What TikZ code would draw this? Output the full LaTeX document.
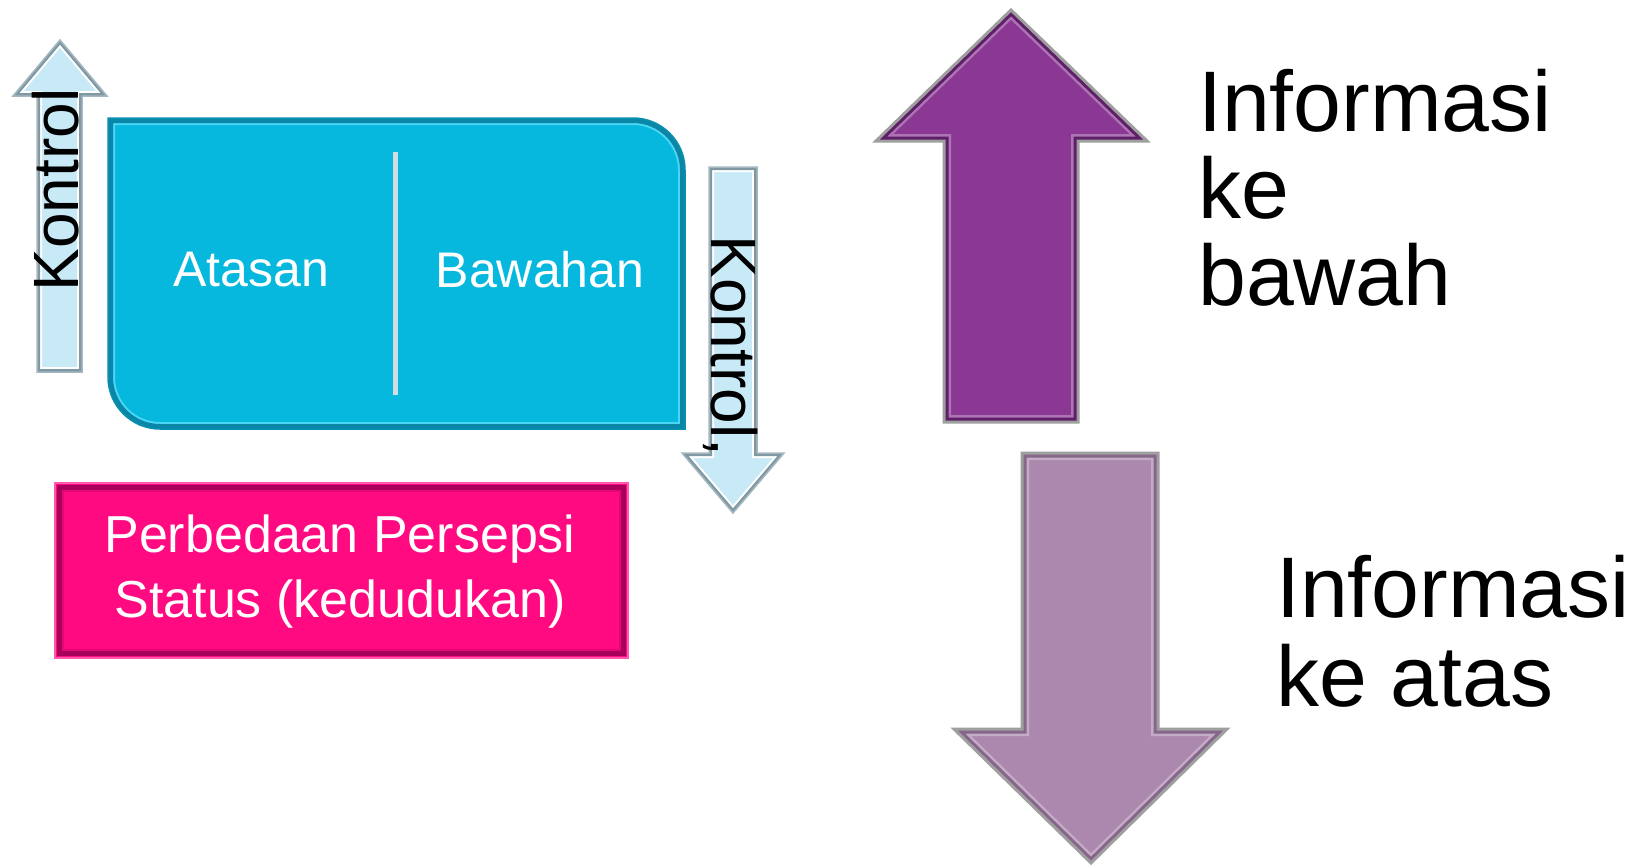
\documentclass[tikz,border=0pt]{standalone}
\usepackage{fontspec}
\setmainfont{Liberation Sans}
\definecolor{boxblue}{HTML}{07B8DE}
\definecolor{boxblueedge}{HTML}{0A86A6}
\definecolor{boxbluelight}{HTML}{4AD6F4}
\definecolor{pinkfill}{HTML}{FF0A80}
\definecolor{pinkedge}{HTML}{A8005A}
\definecolor{pinklight}{HTML}{FF5AAE}
\definecolor{arrowlight}{HTML}{C8E9F6}
\definecolor{arrowlightedge}{HTML}{7F98A4}
\definecolor{purpleA}{HTML}{8A3894}
\definecolor{purpleAdark}{HTML}{5E1F68}
\definecolor{purpleB}{HTML}{AC88AE}
\definecolor{purpleBdark}{HTML}{86668A}
\definecolor{divgray}{HTML}{D3DCE0}
\newcommand\pathLeftUp{(60,40) -- (107,96) -- (82,96) -- (82,372) -- (37,372) -- (37,96) -- (13,96) -- cycle}
\newcommand\pathRightDown{(709,167) -- (757,167) -- (757,453) -- (784,453) -- (733,513) -- (682,453) -- (709,453) -- cycle}
\newcommand\pathBigUp{(1011,10) -- (1147,141) -- (1078,141) -- (1078,422) -- (944,422) -- (944,141) -- (876,141) -- cycle}
\newcommand\pathBigDown{(1022,453) -- (1158,453) -- (1158,729) -- (1227,729) -- (1091,863) -- (954,729) -- (1022,729) -- cycle}
\newcommand\pathBlueBox{(108,118) -- (633,118) .. controls (661.7,118) and (685,141.3) .. (685,170) -- (685,429) -- (160,429) .. controls (131.3,429) and (108,405.7) .. (108,377) -- cycle}
\begin{document}
\begin{tikzpicture}[x=1pt,y=-1pt,
  lbl/.style={inner sep=0pt, font=\fontsize{50}{60}\selectfont, text=white},
  ctl/.style={inner sep=0pt, font=\fontsize{64}{70}\selectfont, text=black},
  info/.style={inner sep=0pt, anchor=base west, font=\fontsize{86}{87}\selectfont, text=black},
  pinktxt/.style={inner sep=0pt, anchor=base, font=\fontsize{52}{65}\selectfont, text=white}]
\useasboundingbox (0,0) rectangle (1640,865);
\fill[white] (0,0) rectangle (1640,865);

% light blue control arrows
\fill[arrowlight] \pathLeftUp;
\begin{scope}\clip \pathLeftUp; \draw[white, line width=10pt, line join=miter] \pathLeftUp; \draw[arrowlightedge, line width=6pt, line join=miter] \pathLeftUp; \end{scope}
\draw[arrowlightedge!70, line width=1.5pt, line join=miter] \pathLeftUp;

\fill[arrowlight] \pathRightDown;
\begin{scope}\clip \pathRightDown; \draw[white, line width=10pt, line join=miter] \pathRightDown; \draw[arrowlightedge, line width=6pt, line join=miter] \pathRightDown; \end{scope}
\draw[arrowlightedge!70, line width=1.5pt, line join=miter] \pathRightDown;

% blue box
\fill[boxblue] \pathBlueBox;
\begin{scope}\clip \pathBlueBox; \draw[boxbluelight, line width=14pt] \pathBlueBox; \draw[boxblueedge, line width=10pt] \pathBlueBox; \end{scope}
\draw[boxblueedge!80!boxblue, line width=1.5pt] \pathBlueBox;
\draw[divgray, line width=5pt] (395,152) -- (395,395);
\node[lbl] (atasan) at (251,270) {Atasan};
\node[lbl] (bawahan) at (540,270) {Bawahan};

% control labels
\node[ctl, rotate=90] (kontrolL) at (56,190) {Kontrol};
\node[ctl, rotate=-90] (kontrolR) at (731,346) {Kontrol,};

% pink box
\fill[pinkfill] (54,482) rectangle (629,659);
\draw[pinkedge, line width=6pt, line join=miter] (60,488) rectangle (623,653);
\draw[pinkfill!70!pinkedge, line width=2pt, line join=miter] (63,491) rectangle (620,650);
\draw[pinklight, line width=2pt, line join=miter] (55,483) rectangle (628,658);
\node[pinktxt] (persepsi1) at (340,552) {Perbedaan Persepsi};
\node[pinktxt] (persepsi2) at (340,617) {Status (kedudukan)};

% big purple arrows
\fill[purpleA] \pathBigUp;
\begin{scope}\clip \pathBigUp; \draw[purpleA!70!white, line width=14pt, line join=miter] \pathBigUp; \draw[purpleAdark, line width=9pt, line join=miter] \pathBigUp; \end{scope}
\draw[gray!75, line width=3pt, line join=miter] \pathBigUp;

\fill[purpleB] \pathBigDown;
\begin{scope}\clip \pathBigDown; \draw[purpleB!70!white, line width=14pt, line join=miter] \pathBigDown; \draw[purpleBdark, line width=9pt, line join=miter] \pathBigDown; \end{scope}
\draw[gray!75, line width=3pt, line join=miter] \pathBigDown;

% information labels
\node[info] (infoA1) at (1198,131) {Informasi};
\node[info] (infoA2) at (1198,218) {ke};
\node[info] (infoA3) at (1198,305) {bawah};
\node[info] (infoB1) at (1276,617) {Informasi};
\node[info] (infoB2) at (1276,706) {ke atas};
\end{tikzpicture}
\end{document}
